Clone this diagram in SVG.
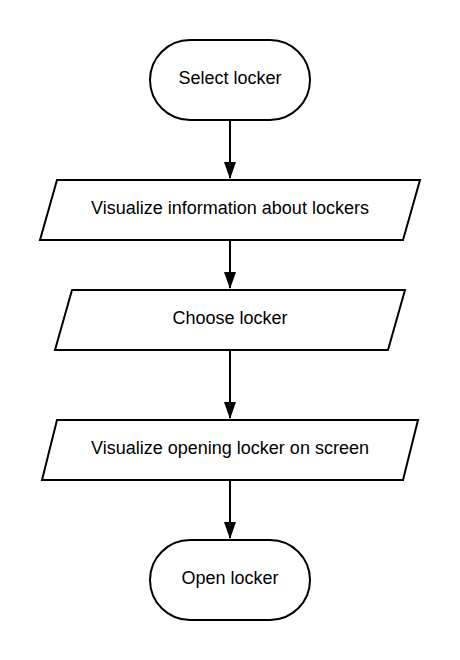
<svg xmlns="http://www.w3.org/2000/svg" width="460" height="660" viewBox="0 0 460 660">
<style>
.shape{fill:#ffffff;stroke:#000000;stroke-width:2;stroke-linejoin:miter}
.lbl{font-family:"Liberation Sans",Arial,sans-serif;font-size:18px;fill:#000000;text-anchor:middle}
.edge{stroke:#000000;stroke-width:2;fill:none}
</style>
<defs>
<marker id="arrow" markerUnits="userSpaceOnUse" markerWidth="18" markerHeight="12" viewBox="0 0 17 12" refX="16" refY="6" orient="auto">
<path d="M0,0 L17,6 L0,12 Z" fill="#000000"/>
</marker>
</defs>
<rect width="460" height="660" fill="#ffffff"/>
<g id="connectors">
<line class="edge" x1="230" y1="120" x2="230" y2="178" marker-end="url(#arrow)"/>
<line class="edge" x1="230" y1="240" x2="230" y2="288" marker-end="url(#arrow)"/>
<line class="edge" x1="230" y1="350" x2="230" y2="418" marker-end="url(#arrow)"/>
<line class="edge" x1="230" y1="480" x2="230" y2="538" marker-end="url(#arrow)"/>
</g>
<g id="node-select">
<rect class="shape" x="150" y="40" width="160" height="80" rx="40" ry="40"/>
<text class="lbl" x="230" y="84.3">Select locker</text>
</g>
<g id="node-visualize-info">
<polygon class="shape" points="57,180 420,180 403,240 40,240"/>
<text class="lbl" x="230" y="214.3">Visualize information about lockers</text>
</g>
<g id="node-choose">
<polygon class="shape" points="72,290 405,290 388,350 55,350"/>
<text class="lbl" x="230" y="324.3">Choose locker</text>
</g>
<g id="node-visualize-opening">
<polygon class="shape" points="57,420 418,420 403,480 42,480"/>
<text class="lbl" x="230" y="454.3">Visualize opening locker on screen</text>
</g>
<g id="node-open">
<rect class="shape" x="150" y="540" width="160" height="80" rx="40" ry="40"/>
<text class="lbl" x="230" y="584">Open locker</text>
</g>
</svg>
